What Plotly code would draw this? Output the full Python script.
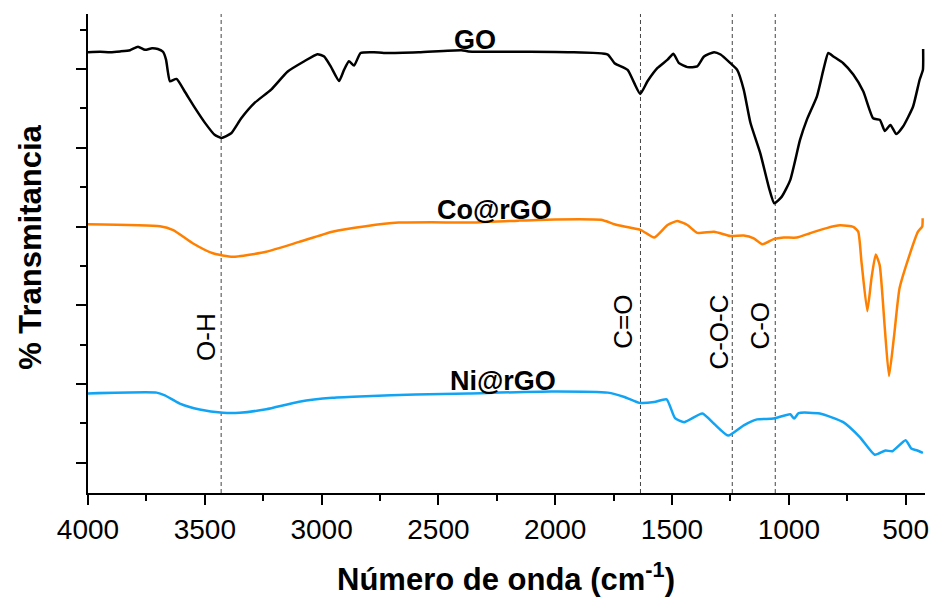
import plotly.graph_objects as go

# FTIR spectra, vertically offset (% transmittance, arbitrary offset units)
go_wn = [4000, 3948, 3905, 3862, 3820, 3786, 3756, 3726, 3701, 3679, 3666, 3658, 3649,
         3621, 3586, 3543, 3500, 3458, 3429, 3387, 3344, 3287, 3216, 3145, 3074, 3018,
         2989, 2961, 2925, 2904, 2883, 2861, 2833, 2776, 2734, 2584, 2401, 2371, 2158,
         1945, 1775, 1746, 1690, 1662, 1636, 1605, 1562, 1519, 1494, 1470, 1434, 1392,
         1363, 1320, 1292, 1250, 1221, 1193, 1164, 1122, 1086, 1062, 1030, 994, 952, 923,
         880, 852, 831, 809, 767, 724, 681, 639, 610, 589, 565, 540, 511, 468, 440, 426, 425]
go_t = [104.3, 104.4, 104.3, 104.5, 104.8, 105.7, 104.9, 105.3, 105.1, 104.4, 102.4, 99.3, 96.9,
        97.5, 94.3, 90.2, 86.4, 83.3, 82.5, 83.7, 87.5, 91.4, 94.8, 99.4, 102.0, 103.8,
        103.2, 100.7, 97.0, 99.8, 102.0, 100.9, 104.1, 104.3, 104.1, 104.3, 104.8, 104.5, 104.4,
        104.3, 103.7, 101.5, 99.8, 96.5, 93.7, 96.9, 100.3, 102.4, 103.9, 101.5, 100.5, 100.7,
        103.2, 104.3, 103.7, 101.5, 99.8, 94.8, 86.3, 78.6, 70.1, 65.9, 67.6, 71.8, 82.0, 87.1,
        93.0, 99.8, 104.1, 103.2, 101.5, 98.6, 94.3, 87.5, 87.1, 84.3, 85.8, 83.5, 85.4, 90.5,
        97.3, 99.8, 105.1]

co_wn = [4000, 3692, 3635, 3550, 3465, 3380, 3237, 3096, 2954, 2811, 2670, 2528, 2371,
         2158, 2002, 1804, 1746, 1704, 1633, 1576, 1519, 1477, 1434, 1392, 1320, 1250,
         1193, 1150, 1113, 1065, 1022, 966, 909, 838, 781, 724, 703, 689, 664, 646, 628,
         611, 589, 571, 549, 526, 483, 447, 429, 427]
co_t = [60.6, 60.1, 59.1, 55.7, 53.2, 52.3, 53.6, 56.1, 58.7, 60.1, 61.0, 61.1, 61.0,
        61.5, 61.8, 61.7, 60.6, 60.0, 59.1, 57.2, 60.4, 61.4, 60.4, 58.4, 58.7, 57.6,
        57.7, 57.0, 55.5, 56.8, 57.2, 57.2, 58.3, 59.6, 60.3, 59.9, 58.7, 51.1, 38.5, 46.9, 52.9,
        50.2, 34.1, 22.0, 32.4, 44.3, 52.8, 58.7, 60.0, 62.1]

ni_wn = [4000, 3706, 3671, 3607, 3522, 3422, 3351, 3237, 3096, 2954, 2811, 2598, 2371,
         2017, 1775, 1704, 1640, 1576, 1523, 1487, 1448, 1370, 1320, 1260, 1193, 1136,
         1065, 994, 977, 958, 867, 767, 696, 632, 586, 557, 500, 476, 450, 426]
ni_t = [17.6, 17.8, 17.1, 15.0, 13.5, 12.7, 12.7, 13.6, 15.5, 16.5, 16.9, 17.3, 17.6,
        18.1, 17.8, 16.7, 15.2, 15.4, 16.1, 11.3, 10.3, 12.5, 9.9, 6.9, 9.5, 11.0,
        11.2, 12.3, 11.2, 12.6, 12.5, 10.3, 6.5, 2.0, 3.1, 2.9, 5.7, 3.6, 3.1, 2.5]

# Band assignments: marker position and label placement
band_names = ["O-H", "C=O", "C-O-C", "C-O"]
band_wn = [3430, 1635, 1242, 1058]
band_label_wn = [3494, 1707, 1299, 1124]
band_label_t = [32.0, 35.7, 33.3, 34.8]

series_names = ["GO", "Co@rGO", "Ni@rGO"]
series_colors = ["#000000", "#ff8000", "#12a4f4"]
series_label_wn = [2342, 2258, 2225]
series_label_t = [107.5, 64.3, 20.8]

FONT = "Liberation Sans, Arial, sans-serif"

fig = go.Figure()
for name, wn, t, color in zip(series_names, [go_wn, co_wn, ni_wn],
                              [go_t, co_t, ni_t], series_colors):
    fig.add_trace(go.Scatter(x=wn, y=t, mode="lines", name=name,
                             line=dict(color=color, width=2.5, shape="spline", smoothing=0.5)))

for wn in band_wn:
    fig.add_shape(type="line", xref="x", yref="paper", x0=wn, x1=wn, y0=0, y1=1,
                  line=dict(color="#444444", width=1, dash="4px,3px"), layer="below")

for name, wn, t in zip(band_names, band_label_wn, band_label_t):
    fig.add_annotation(x=wn, y=t, text=name, showarrow=False, textangle=-90,
                       xanchor="center", yanchor="middle",
                       font=dict(family=FONT, size=26, color="black"))

for name, wn, t in zip(series_names, series_label_wn, series_label_t):
    fig.add_annotation(x=wn, y=t, text="<b>%s</b>" % name, showarrow=False,
                       xanchor="center", yanchor="middle",
                       font=dict(family=FONT, size=27, color="black"))

# Axis titles
fig.add_annotation(xref="paper", yref="paper", x=0.499, y=-0.176,
                   text="<b>Número de onda (cm<sup>-1</sup>)</b>", showarrow=False,
                   xanchor="center", yanchor="middle",
                   font=dict(family=FONT, size=31, color="black"))
fig.add_annotation(xref="paper", yref="paper", x=-0.0689, y=0.5125,
                   text="<b>% Transmitancia</b>", showarrow=False, textangle=-90,
                   xanchor="center", yanchor="middle",
                   font=dict(family=FONT, size=31, color="black"))

fig.update_layout(
    width=938, height=598,
    margin=dict(l=88, r=9, t=14, b=105),
    paper_bgcolor="white", plot_bgcolor="white",
    showlegend=False,
    font=dict(family=FONT, color="black"),
)
fig.update_xaxes(range=[4000, 417], dtick=500, tick0=0, showgrid=False, zeroline=False,
                 showline=True, linewidth=2, linecolor="black",
                 ticks="outside", ticklen=10, tickwidth=2, tickcolor="black",
                 tickfont=dict(family=FONT, size=28, color="black"),
                 minor=dict(dtick=250, tick0=0, ticks="outside", ticklen=6, tickwidth=2,
                            tickcolor="black", showgrid=False))
fig.update_yaxes(range=[-7.7, 114.0], dtick=20, tick0=0, showgrid=False, zeroline=False,
                 showline=True, linewidth=2, linecolor="black", showticklabels=False,
                 ticks="outside", ticklen=10, tickwidth=2, tickcolor="black",
                 minor=dict(dtick=10, tick0=0, ticks="outside", ticklen=6, tickwidth=2,
                            tickcolor="black", showgrid=False))

fig.write_html("out.html")
